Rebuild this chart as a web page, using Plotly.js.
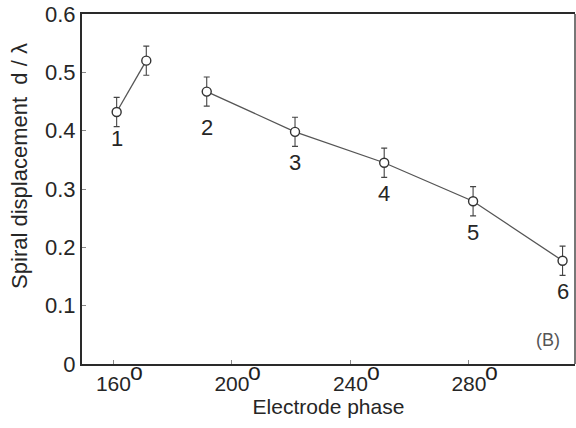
<!DOCTYPE html>
<html>
<head>
<meta charset="utf-8">
<script src="https://cdn.plot.ly/plotly-3.0.1.min.js"></script>
<style>
  html, body { margin: 0; padding: 0; background: #fff; }
  #chart { width: 576px; height: 428px; }
</style>
</head>
<body>
<div id="chart"></div>
<script>
// Spiral displacement versus electrode phase
const phaseA = [161.1, 171.1];
const dispA  = [0.432, 0.520];
const errA   = [0.025, 0.025];

const phaseB = [191.5, 221.3, 251.4, 281.4, 311.6];
const dispB  = [0.467, 0.398, 0.345, 0.279, 0.177];
const errB   = [0.025, 0.025, 0.025, 0.025, 0.025];

// numbered electrodes
const electrodeNames = ['1', '2', '3', '4', '5', '6'];
const electrodePhase = [161.1, 191.5, 221.3, 251.4, 281.4, 311.6];
const electrodeDisp  = [0.432, 0.467, 0.398, 0.345, 0.279, 0.177];

const xTickVals = [160, 200, 240, 280];
const xTickText = ['160', '200', '240', '280'];
const yTickVals = [0, 0.1, 0.2, 0.3, 0.4, 0.5, 0.6];
const yTickText = ['0', '0.1', '0.2', '0.3', '0.4', '0.5', '0.6'];

const FONT = 'Liberation Sans, Arial, Helvetica, sans-serif';
const INK = '#262626';
const labelDrop = [-26, -36, -31, -31, -31, -31];

function series(x, y, e) {
  return {
    type: 'scatter', mode: 'lines+markers', x: x, y: y,
    line: { color: '#555', width: 1.3 },
    marker: { symbol: 'circle', size: 9, color: '#fff', line: { color: '#333', width: 1.4 } },
    error_y: { type: 'data', array: e, visible: true, color: '#444', thickness: 1.1, width: 3 },
    showlegend: false, hoverinfo: 'skip'
  };
}

const annotations = [];
electrodeNames.forEach((n, i) => {
  annotations.push({
    x: electrodePhase[i], y: electrodeDisp[i], xref: 'x', yref: 'y',
    text: n, showarrow: false, yshift: labelDrop[i],
    xanchor: 'center', yanchor: 'middle',
    font: { family: FONT, size: 22, color: INK }
  });
});
// degree marks next to the phase tick labels
xTickVals.forEach(v => {
  annotations.push({
    x: v, y: 0, xref: 'x', yref: 'paper', text: 'o', showarrow: false,
    xanchor: 'center', yanchor: 'middle', xshift: 23, yshift: -8,
    font: { family: FONT, size: 23, color: '#1e1e1e' }
  });
});
// y-axis title
annotations.push({
  x: 0, y: 0.566, xref: 'paper', yref: 'paper', xshift: -62,
  text: 'Spiral displacement\u00a0\u00a0d / \u03bb', textangle: -90, showarrow: false,
  xanchor: 'center', yanchor: 'middle',
  font: { family: FONT, size: 22, color: INK }
});
// panel tag
annotations.push({
  x: 1, y: 0, xref: 'paper', yref: 'paper', xshift: -27, yshift: 24,
  text: '(B)', showarrow: false, xanchor: 'center', yanchor: 'middle',
  font: { family: FONT, size: 18, color: '#555' }
});

const layout = {
  width: 576, height: 428,
  margin: { l: 82, r: 1, t: 14, b: 64 },
  paper_bgcolor: '#fff', plot_bgcolor: '#fff',
  font: { family: FONT, color: INK },
  xaxis: {
    range: [149.4, 315.8], tickmode: 'array', tickvals: xTickVals, ticktext: xTickText,
    ticks: 'inside', ticklen: 4, tickwidth: 1, tickcolor: '#888',
    showgrid: false, zeroline: false,
    showline: true, linecolor: '#2a2a2a', linewidth: 2, mirror: true,
    tickfont: { family: FONT, size: 21, color: INK },
    title: { text: 'Electrode phase', font: { family: FONT, size: 21, color: INK }, standoff: 4 }
  },
  yaxis: {
    range: [0, 0.6], tickmode: 'array', tickvals: yTickVals, ticktext: yTickText,
    ticks: 'inside', ticklen: 4, tickwidth: 1, tickcolor: '#888',
    showgrid: false, zeroline: false,
    showline: true, linecolor: '#2a2a2a', linewidth: 2, mirror: false,
    tickfont: { family: FONT, size: 22, color: INK }
  },
  shapes: [{
    type: 'line', xref: 'paper', yref: 'paper', x0: 1, x1: 1, y0: 0, y1: 1,
    line: { color: '#777', width: 2 }
  }],
  annotations: annotations
};

Plotly.newPlot('chart', [series(phaseA, dispA, errA), series(phaseB, dispB, errB)], layout,
  { displayModeBar: false, staticPlot: true });
</script>
</body>
</html>
